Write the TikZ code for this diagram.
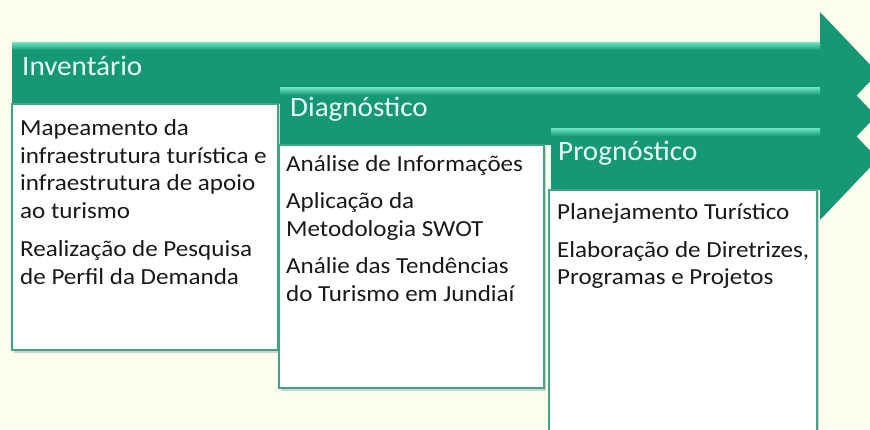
\documentclass[tikz,border=0pt]{standalone}
\usepackage{fontspec}
\setmainfont{Carlito}
\newfontfamily\headfont{Carlito}[FakeStretch=1.04]
\newfontfamily\bodyfont{Carlito}[FakeStretch=1.09]
\definecolor{phasegreen}{RGB}{22, 152, 118}
\definecolor{phaselight}{RGB}{110, 232, 195}
\definecolor{boxedge}{RGB}{62, 165, 135}
\definecolor{creambg}{RGB}{253, 253, 237}
\definecolor{headtext}{RGB}{232, 255, 246}
\usepackage{tikz}
\usetikzlibrary{positioning}

\tikzset{
  phasehead/.style={anchor=base west, inner sep=0pt, text=headtext, font=\headfont\fontsize{28}{32}\selectfont},
  phasebox/.style={draw=boxedge, line width=1.6pt, fill=white},
  boxshadow/.style={fill=black!18},
  phasetext/.style={anchor=north west, inner sep=0pt, align=left, text=black!90, font=\bodyfont\fontsize{23}{27.5}\selectfont},
}

\begin{document}
\begin{tikzpicture}[x=1pt, y=-1pt]
  % Background
  \fill[creambg] (0,0) rectangle (870,429);
  \useasboundingbox (0,0) rectangle (870,429);
  \clip (0,0) rectangle (870,429);

  % Inventario
  \fill[phasegreen] (12,42) -- (820,42) -- (820,12) -- (878,73) -- (820,134) -- (820,104) -- (12,104) -- cycle;
  \shade[top color=phaselight, bottom color=phasegreen] (12,42) rectangle (820,50);
  \node[phasehead] (inv) at (22,75) {Inventário};

  \fill[boxshadow] (14,106) rectangle (280,353);
  \draw[phasebox] (12,104) rectangle (278,350);
  \node[phasetext] (invtext) at (20,119.5) {Mapeamento da\\infraestrutura turística e\\infraestrutura de apoio\\ao turismo\\[11pt]Realização de Pesquisa\\de Perfil da Demanda};

  % Diagnostico
  \fill[phasegreen] (280,87) -- (820,87) -- (820,57) -- (876,116) -- (820,175) -- (820,145) -- (280,145) -- cycle;
  \shade[top color=phaselight, bottom color=phasegreen] (280,87) rectangle (820,95);
  \node[phasehead] (diag) at (290,116.7) {Diagnóstico};

  \fill[boxshadow] (281,147) rectangle (546,391);
  \draw[phasebox] (279,145) rectangle (544,388);
  \node[phasetext] (diagtext) at (286,155) {Análise de Informações\\[10pt]Aplicação da\\Metodologia SWOT\\[10pt]Análie das Tendências\\do Turismo em Jundiaí};

  % Prognostico
  \fill[phasegreen] (551,128) -- (820,128) -- (820,98) -- (878,159) -- (820,220) -- (820,190) -- (551,190) -- cycle;
  \shade[top color=phaselight, bottom color=phasegreen] (551,128) rectangle (820,136);
  \node[phasehead] (prog) at (558,160) {Prognóstico};

  \fill[boxshadow] (551,192) rectangle (819,440);
  \draw[phasebox] (549,190) rectangle (817,440);
  \node[phasetext] (progtext) at (557,203.5) {Planejamento Turístico\\[10pt]Elaboração de Diretrizes,\\Programas e Projetos};
\end{tikzpicture}
\end{document}
